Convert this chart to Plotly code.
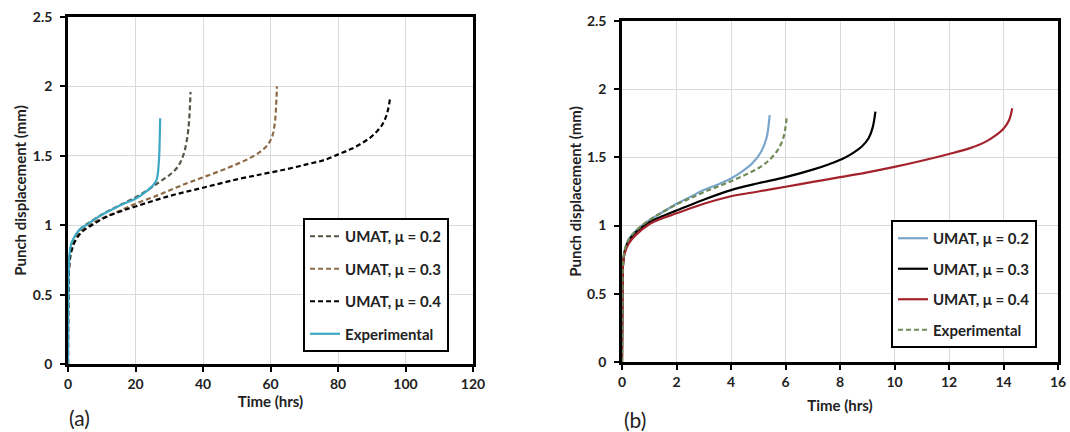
import plotly.graph_objects as go

# ---------------- data: panel (a) ----------------
a_labels = ["UMAT, μ = 0.2", "UMAT, μ = 0.3", "UMAT, μ = 0.4", "Experimental"]

a02_t = [0, 0.05, 0.2, 0.5, 1.0, 2.0, 4.0, 7.0, 11.0, 15.0, 20.0, 24.0, 27.0, 30.0, 32.5, 34.1, 35.2, 35.9, 36.3]
a02_y = [0, 0.40, 0.65, 0.78, 0.85, 0.91, 0.98, 1.03, 1.09, 1.14, 1.20, 1.26, 1.31, 1.36, 1.42, 1.50, 1.61, 1.76, 1.96]

a03_t = [0, 0.05, 0.2, 0.5, 1.0, 2.0, 4.0, 7.0, 11.0, 15.0, 20.0, 25.0, 30.0, 35.0, 40.0, 45.0, 50.0, 54.0, 57.0, 59.2, 60.5, 61.2, 61.6, 61.9]
a03_y = [0, 0.40, 0.64, 0.76, 0.83, 0.89, 0.96, 1.01, 1.06, 1.10, 1.155, 1.20, 1.25, 1.30, 1.345, 1.39, 1.44, 1.485, 1.53, 1.58, 1.64, 1.72, 1.83, 2.00]

a04_t = [0, 0.05, 0.2, 0.5, 1.0, 2.0, 4.0, 7.0, 11.0, 15.0, 20.0, 30.0, 40.0, 50.0, 58.0, 65.0, 71.0, 76.0, 80.5, 84.0, 87.0, 89.5, 91.5, 93.0, 94.2, 94.9, 95.4]
a04_y = [0, 0.38, 0.62, 0.74, 0.81, 0.88, 0.95, 1.00, 1.055, 1.095, 1.135, 1.21, 1.27, 1.33, 1.37, 1.405, 1.44, 1.47, 1.515, 1.55, 1.59, 1.63, 1.675, 1.72, 1.78, 1.84, 1.91]

aexp_t = [0, 0.05, 0.15, 0.3, 0.6, 1.0, 2.0, 3.5, 6.0, 9.0, 12.0, 16.0, 20.0, 23.0, 25.3, 26.3, 26.9, 27.1, 27.3]
aexp_y = [0, 0.35, 0.60, 0.72, 0.82, 0.87, 0.92, 0.97, 1.01, 1.06, 1.10, 1.15, 1.19, 1.24, 1.29, 1.33, 1.45, 1.55, 1.77]

# ---------------- data: panel (b) ----------------
b_labels = ["UMAT, μ = 0.2", "UMAT, μ = 0.3", "UMAT, μ = 0.4", "Experimental"]

b02_t = [0, 0.01, 0.02, 0.04, 0.1, 0.25, 0.5, 1.0, 1.5, 2.0, 2.5, 3.0, 3.5, 4.0, 4.4, 4.8, 5.1, 5.3, 5.42]
b02_y = [0, 0.30, 0.60, 0.72, 0.82, 0.90, 0.96, 1.04, 1.10, 1.16, 1.21, 1.26, 1.30, 1.345, 1.395, 1.46, 1.54, 1.64, 1.81]

b03_t = [0, 0.01, 0.02, 0.04, 0.1, 0.25, 0.5, 1.0, 1.5, 2.0, 3.0, 4.0, 5.0, 6.0, 7.0, 7.6, 8.1, 8.5, 8.8, 9.05, 9.2, 9.3]
b03_y = [0, 0.30, 0.60, 0.72, 0.81, 0.89, 0.95, 1.025, 1.07, 1.11, 1.19, 1.26, 1.31, 1.355, 1.41, 1.45, 1.49, 1.535, 1.58, 1.64, 1.72, 1.835]

b04_t = [0, 0.01, 0.02, 0.04, 0.1, 0.25, 0.5, 1.0, 1.5, 2.0, 3.0, 4.0, 5.0, 6.0, 7.0, 8.0, 9.0, 10.0, 11.0, 12.0, 12.8, 13.3, 13.7, 14.0, 14.2, 14.32]
b04_y = [0, 0.30, 0.60, 0.72, 0.80, 0.87, 0.93, 1.01, 1.055, 1.09, 1.16, 1.215, 1.25, 1.285, 1.32, 1.355, 1.39, 1.43, 1.475, 1.525, 1.57, 1.61, 1.66, 1.71, 1.77, 1.86]

bexp_t = [0, 0.01, 0.02, 0.04, 0.1, 0.25, 0.5, 1.0, 1.5, 2.0, 2.5, 3.0, 3.5, 4.0, 4.5, 5.0, 5.4, 5.7, 5.9, 6.0, 6.05]
bexp_y = [0, 0.30, 0.60, 0.72, 0.82, 0.90, 0.96, 1.04, 1.10, 1.155, 1.20, 1.245, 1.285, 1.325, 1.37, 1.42, 1.48, 1.55, 1.63, 1.72, 1.81]

x_title = "Time (hrs)"
y_title = "Punch displacement (mm)"
panel_labels = ["(a)", "(b)"]

FONT = "Lato"
DASH = "5px,3px"

fig = go.Figure()

def add(t, y, name, color, dash, xa, ya, legend, group):
    fig.add_trace(go.Scatter(
        x=t, y=y, name=name, mode="lines",
        line=dict(color=color, width=2.2, dash=dash, shape="spline", smoothing=1.0),
        xaxis=xa, yaxis=ya, legend=legend, legendgroup=group,
    ))

add(a02_t, a02_y, a_labels[0], "#4f5848", DASH, "x", "y", "legend", "a1")
add(a03_t, a03_y, a_labels[1], "#8c6a45", DASH, "x", "y", "legend", "a2")
add(a04_t, a04_y, a_labels[2], "#000000", DASH, "x", "y", "legend", "a3")
add(aexp_t, aexp_y, a_labels[3], "#3da8c4", "solid", "x", "y", "legend", "a4")

add(b02_t, b02_y, b_labels[0], "#7aa6cc", "solid", "x2", "y2", "legend2", "b1")
add(b03_t, b03_y, b_labels[1], "#000000", "solid", "x2", "y2", "legend2", "b2")
add(b04_t, b04_y, b_labels[2], "#a3222b", "solid", "x2", "y2", "legend2", "b3")
add(bexp_t, bexp_y, b_labels[3], "#6f8a55", DASH, "x2", "y2", "legend2", "b4")

tickfont = dict(family=FONT, size=14, color="#222", weight="bold")
titlefont = dict(family=FONT, size=15, color="#222", weight="bold")

axis_common = dict(
    showline=True, linecolor="black", linewidth=2.5, mirror=True,
    ticks="outside", ticklen=5, tickwidth=1.5, tickcolor="black",
    showgrid=True, gridcolor="#d9d9d9", gridwidth=1, zeroline=False,
    tickfont=tickfont, automargin=False,
)

legend_common = dict(
    bgcolor="white", bordercolor="black", borderwidth=2,
    font=dict(family=FONT, size=15, color="#222", weight="bold"),
    xanchor="left", yanchor="top", itemwidth=30,
)

fig.update_layout(
    width=1070, height=432,
    margin=dict(l=68, r=12, t=17, b=68),
    paper_bgcolor="white", plot_bgcolor="white",
    font=dict(family=FONT),
    xaxis=dict(domain=[0, 0.4091], anchor="y", range=[0, 120], dtick=20,
               title=dict(text=x_title, font=titlefont, standoff=2), **axis_common),
    yaxis=dict(domain=[0, 1], anchor="x", range=[0, 2.5], dtick=0.5, ticklabelstandoff=5,
               title=dict(text=y_title, font=titlefont, standoff=3), **axis_common),
    xaxis2=dict(domain=[0.5596, 1], anchor="y2", range=[0, 16], dtick=2,
                title=dict(text=x_title, font=titlefont, standoff=12), **axis_common),
    yaxis2=dict(domain=[0.0058, 0.9885], anchor="x2", range=[0, 2.5], dtick=0.5, ticklabelstandoff=5,
                title=dict(text=y_title, font=titlefont, standoff=2), **axis_common),
    legend=dict(x=0.2374, y=0.4207, tracegroupgap=10, **legend_common),
    legend2=dict(x=0.8313, y=0.415, tracegroupgap=8, **legend_common),
    annotations=[
        dict(text=panel_labels[0], xref="paper", yref="paper", x=-0.001, y=-0.153,
             xanchor="left", yanchor="middle", showarrow=False,
             font=dict(family=FONT, size=21, color="#222")),
        dict(text=panel_labels[1], xref="paper", yref="paper", x=0.5596, y=-0.161,
             xanchor="left", yanchor="middle", showarrow=False,
             font=dict(family=FONT, size=21, color="#222")),
    ],
)

fig.write_html("out.html")
